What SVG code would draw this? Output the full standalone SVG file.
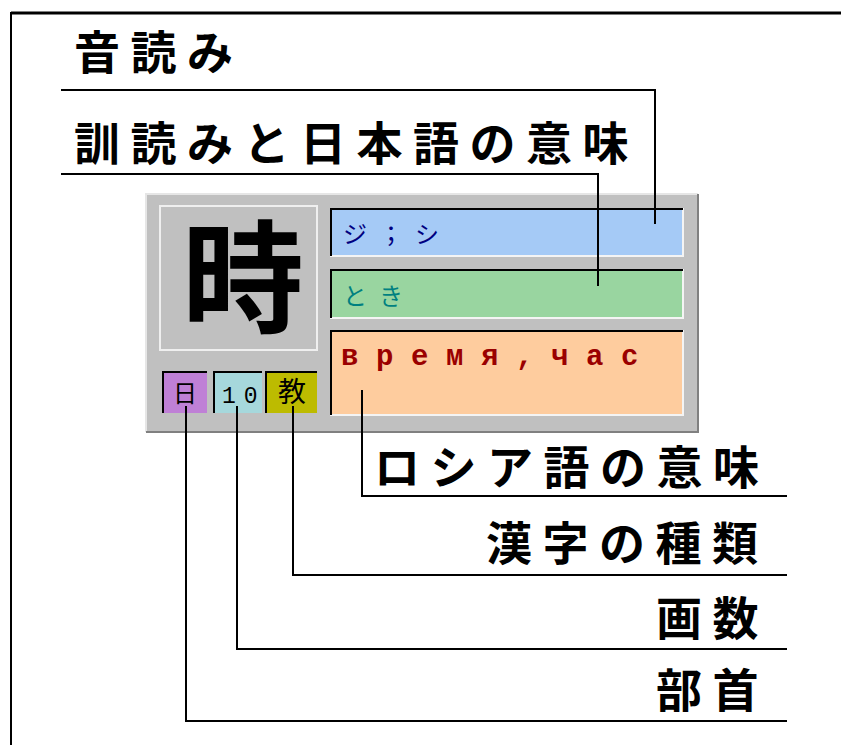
<svg xmlns="http://www.w3.org/2000/svg" width="841" height="745" viewBox="0 0 841 745">
<style>
.lbl{font-family:"Noto Sans CJK JP",sans-serif;font-size:46px;font-weight:bold;fill:#000;letter-spacing:10.5px}
.fld{font-family:"Noto Sans CJK JP",sans-serif;font-size:24px;letter-spacing:12px}
.dark{fill:none;stroke:#000;stroke-width:2}
.lite{fill:none;stroke:#f4f4f4;stroke-width:2}
.conn{fill:none;stroke:#000;stroke-width:2}
</style>
<rect x="0" y="0" width="841" height="745" fill="#fff"/>
<g id="frame">
<line x1="11" y1="13" x2="841" y2="13" stroke="#000" stroke-width="3"/>
<line x1="11" y1="12" x2="11" y2="745" stroke="#000" stroke-width="2"/>
</g>
<g id="panel">
<rect x="146" y="194" width="552" height="238" fill="#c0c0c0"/>
<polyline points="146,432 146,194 698,194" fill="none" stroke="#e6e6e6" stroke-width="2"/>
<polyline points="146,432 698,432 698,194" fill="none" stroke="#808080" stroke-width="2"/>
</g>
<g id="kanji">
<rect x="160" y="206" width="157" height="144" fill="#c0c0c0" stroke="#efefef" stroke-width="2"/>
<text x="243" y="323" font-family="Noto Sans CJK JP,sans-serif" font-size="122" font-weight="bold" text-anchor="middle" fill="#000">時</text>
</g>
<g id="onyomi-field">
<rect x="330" y="208" width="353" height="48" fill="#a5caf6"/>
<polyline class="lite" points="330,256 683,256 683,208"/>
<polyline class="dark" points="331,256 331,209 683,209"/>
<text class="fld" x="343" y="243" fill="#000080">ジ；シ</text>
</g>
<g id="kunyomi-field">
<rect x="330" y="269" width="353" height="49" fill="#99d5a0"/>
<polyline class="lite" points="330,318 683,318 683,269"/>
<polyline class="dark" points="331,318 331,270 683,270"/>
<text class="fld" x="343" y="305" fill="#008080">とき</text>
</g>
<g id="russian-field">
<rect x="330" y="330" width="353" height="85" fill="#fecc9e"/>
<polyline class="lite" points="330,415 683,415 683,330"/>
<polyline class="dark" points="331,415 331,331 683,331"/>
<text x="341" y="365" font-family="Liberation Mono,monospace" font-size="29" font-weight="bold" letter-spacing="17.6" fill="#9a0000">время,час</text>
</g>
<g id="radical-box">
<rect x="162" y="371" width="45" height="42" fill="#bf80d6"/>
<polyline class="dark" points="163,413 163,372 207,372"/>
<text x="185" y="402" font-family="Noto Sans CJK JP,sans-serif" font-size="24" text-anchor="middle" fill="#000">日</text>
</g>
<g id="strokes-box">
<rect x="213" y="371" width="49" height="42" fill="#a6d8dc"/>
<polyline class="dark" points="214,413 214,372 262,372"/>
<text x="222" y="403" font-family="Liberation Mono,monospace" font-size="23" letter-spacing="8" fill="#000">10</text>
</g>
<g id="type-box">
<rect x="265" y="371" width="52" height="42" fill="#bdbb00"/>
<polyline class="dark" points="266,413 266,372 317,372"/>
<text x="292" y="402" font-family="Noto Sans CJK JP,sans-serif" font-size="28" text-anchor="middle" fill="#000">教</text>
</g>
<g id="labels">
<text class="lbl" id="label-onyomi" x="74" y="69">音読み</text>
<text class="lbl" id="label-kunyomi" x="74" y="160">訓読みと日本語の意味</text>
<text class="lbl" id="label-russian" x="374" y="484">ロシア語の意味</text>
<text class="lbl" id="label-type" x="486" y="560">漢字の種類</text>
<text class="lbl" id="label-strokes" x="656" y="635">画数</text>
<text class="lbl" id="label-radical" x="656" y="707">部首</text>
</g>
<g id="connectors">
<polyline class="conn" points="61,90 655,90 655,224"/>
<polyline class="conn" points="61,174 598,174 598,286"/>
<polyline class="conn" points="362,390 362,496 787,496"/>
<polyline class="conn" points="293,406 293,575 787,575"/>
<polyline class="conn" points="237,406 237,649 787,649"/>
<polyline class="conn" points="186,406 186,721 787,721"/>
</g>
</svg>
